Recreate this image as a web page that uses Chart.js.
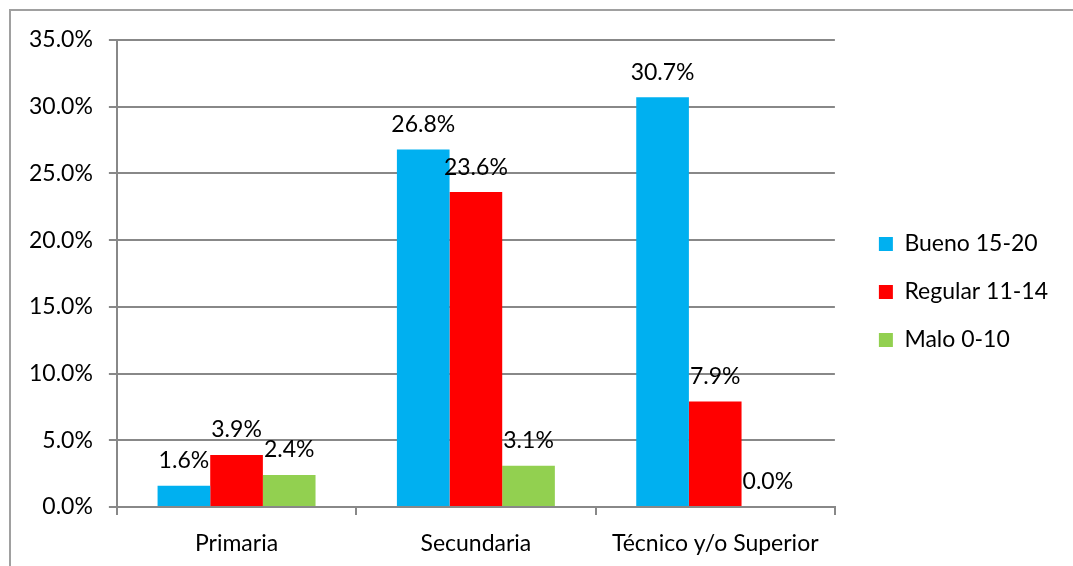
<!DOCTYPE html>
<html>
<head>
<meta charset="utf-8">
<script src="https://cdn.jsdelivr.net/npm/chart.js@4/dist/chart.umd.min.js"></script>
<style>
  html, body { margin: 0; padding: 0; background: #fff; }
  #wrap { width: 1073px; height: 566px; }
</style>
</head>
<body>
<div id="wrap"><canvas id="grafico"></canvas></div>
<script>
// datos
const categorias = ['Primaria', 'Secundaria', 'Técnico y/o Superior'];
const bueno = [1.6, 26.8, 30.7];
const regular = [3.9, 23.6, 7.9];
const malo = [2.4, 3.1, 0.0];
const series = ['Bueno 15-20', 'Regular 11-14', 'Malo 0-10'];

const fuente = "Lato, 'Open Sans', sans-serif";
const tam = 23;

// marco gris (solo arriba e izquierda)
const marco = {
    id: 'marco',
    afterDraw(chart) {
        const c = chart.ctx;
        c.save();
        c.strokeStyle = '#a0a0a0';
        c.lineWidth = 2;
        c.beginPath();
        c.moveTo(10, 566);
        c.lineTo(10, 10);
        c.lineTo(1073, 10);
        c.stroke();
        c.restore();
    }
};

// etiquetas de valor encima de cada barra
const etiquetas = {
    id: 'etiquetas',
    afterDatasetsDraw(chart) {
        const c = chart.ctx;
        c.save();
        c.font = tam + 'px ' + fuente;
        c.fillStyle = '#000';
        c.textAlign = 'center';
        c.textBaseline = 'middle';
        chart.data.datasets.forEach((ds, i) => {
            chart.getDatasetMeta(i).data.forEach((bar, j) => {
                c.fillText(ds.data[j].toFixed(1) + '%', bar.x, bar.y - 25);
            });
        });
        c.restore();
    }
};

new Chart(document.getElementById('grafico'), {
    type: 'bar',
    data: {
        labels: categorias,
        datasets: [
            { label: series[0], data: bueno, backgroundColor: '#00B0F0' },
            { label: series[1], data: regular, backgroundColor: '#FF0000' },
            { label: series[2], data: malo, backgroundColor: '#92D050' }
        ]
    },
    options: {
        responsive: true,
        maintainAspectRatio: false,
        animation: false,
        layout: { padding: { top: 18, left: 13, right: 15, bottom: 0 } },
        datasets: { bar: { barPercentage: 1, categoryPercentage: 0.66 } },
        plugins: {
            // titulo vacio: baja el area del grafico sin mover la leyenda
            title: { display: true, text: ' ', fullSize: false, padding: 5, font: { size: 10 } },
            legend: {
                position: 'right',
                maxWidth: 240,
                labels: {
                    boxWidth: 14, boxHeight: 14, padding: 25,
                    color: '#000',
                    font: { family: fuente, size: tam }
                }
            },
            tooltip: { enabled: false }
        },
        scales: {
            x: {
                grid: { display: true, drawOnChartArea: false, offset: true, color: '#888', tickLength: 8, lineWidth: 2 },
                border: { color: '#888', width: 2 },
                ticks: { color: '#000', font: { family: fuente, size: tam }, padding: 15, maxRotation: 0, minRotation: 0 },
                afterFit: s => { s.height = 59; }
            },
            y: {
                min: 0, max: 35,
                grid: { color: '#888', tickLength: 8, lineWidth: 2 },
                border: { color: '#888', width: 2 },
                ticks: {
                    stepSize: 5, color: '#000', padding: 16,
                    font: { family: fuente, size: tam },
                    callback: v => v.toFixed(1) + '%'
                }
            },
            // eje vacio, solo deja espacio entre el grafico y la leyenda
            hueco: {
                position: 'right',
                display: true,
                grid: { display: false },
                border: { display: false },
                ticks: { display: false },
                afterFit: s => { s.width = 19; }
            }
        }
    },
    plugins: [marco, etiquetas]
});
</script>
</body>
</html>
